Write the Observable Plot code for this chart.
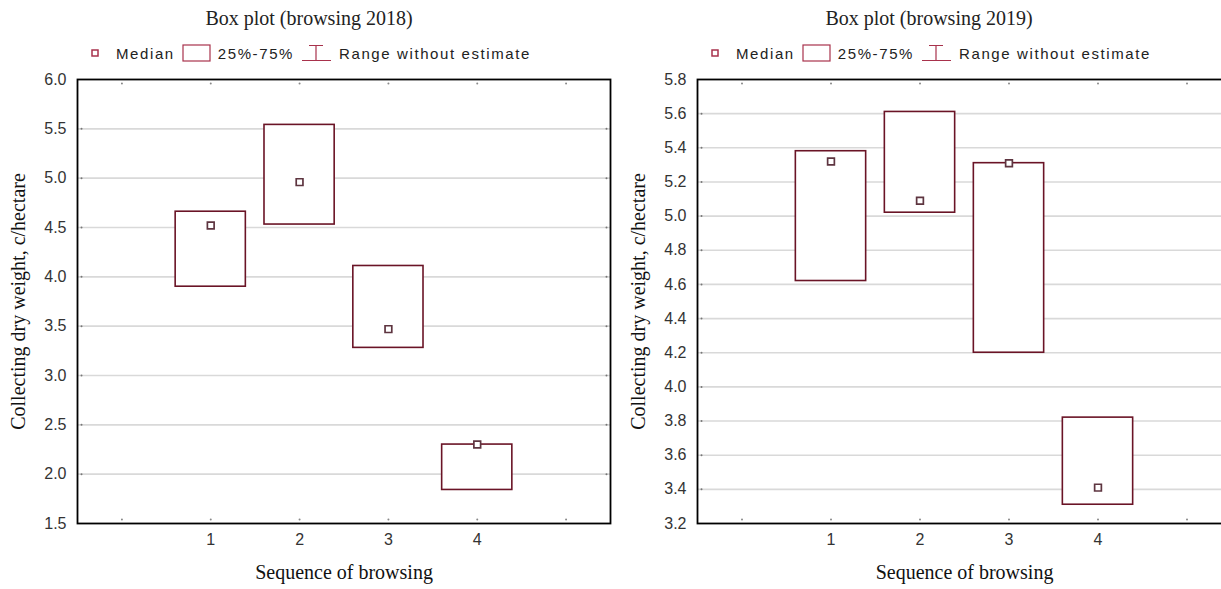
<!DOCTYPE html>
<html><head><meta charset="utf-8">
<script src="https://cdn.jsdelivr.net/npm/d3@7"></script>
<script src="https://cdn.jsdelivr.net/npm/@observablehq/plot@0.6"></script>
<style>
html,body{margin:0;padding:0;background:#fff;overflow:hidden;width:1221px;height:589px;position:relative}
.panel{position:absolute;top:0;width:620px;height:589px}
.title{position:absolute;left:0;width:618px;top:7px;text-align:center;font-family:"Liberation Serif",serif;font-size:20px;line-height:22px;color:#222}
.legend{position:absolute;left:0;width:628px;top:43px;height:20px;display:flex;justify-content:center;align-items:center;font-family:"Liberation Sans",sans-serif;font-size:15px;letter-spacing:1.6px;color:#222;white-space:nowrap}
.legend svg{display:block}
.legend span{margin:0 7px 0 7px}
.chart{position:absolute;top:64px;left:0}
</style>
</head><body>
<div class="panel" id="p2018" style="left:0"></div>
<div class="panel" id="p2019" style="left:620px"></div>
<script>
const categories = [1, 2, 3, 4];
const q1_2018 = [3.90, 4.53, 3.28, 1.84];
const median_2018 = [4.52, 4.96, 3.47, 2.30];
const q3_2018 = [4.66, 5.54, 4.11, 2.30];
const q1_2019 = [4.62, 5.02, 4.20, 3.31];
const median_2019 = [5.32, 5.09, 5.31, 3.41];
const q3_2019 = [5.38, 5.61, 5.31, 3.82];
const xTicks = [0, 1, 2, 3, 4, 5];
const xLabels = ["", "1", "2", "3", "4", ""];
const yTicks2018 = [1.5, 2.0, 2.5, 3.0, 3.5, 4.0, 4.5, 5.0, 5.5, 6.0];
const yTicks2019 = [3.2, 3.4, 3.6, 3.8, 4.0, 4.2, 4.4, 4.6, 4.8, 5.0, 5.2, 5.4, 5.6, 5.8];
const titles = ["Box plot (browsing 2018)", "Box plot (browsing 2019)"];
const legendLabels = ["Median", "25%-75%", "Range without estimate"];
const xLabel = "Sequence of browsing";
const yLabel = "Collecting dry weight, c/hectare";

const boxColor = "#6a1426";
const medColor = "#5e3540";
const legColor = "#a8324c";

function legendHTML() {
  return `<svg width="10" height="10"><rect x="2" y="2" width="6" height="6" fill="#fff" stroke="${legColor}" stroke-width="1.5"/></svg>
  <span style="margin-left:16px">${legendLabels[0]}</span>
  <svg width="29" height="18"><rect x="1" y="1" width="27" height="16" fill="#fff" stroke="${legColor}" stroke-width="1.2"/></svg>
  <span>${legendLabels[1]}</span>
  <svg width="31" height="18"><path d="M8,1.5H22M15,1.5V16.5M1,16.5H30" stroke="${legColor}" stroke-width="1.2" fill="none"/></svg>
  <span>${legendLabels[2]}</span>`;
}

function makePanel(id, title, q1, med, q3, yTicks, marginRight) {
  const el = document.getElementById(id);
  const t = document.createElement("div"); t.className = "title"; t.textContent = title; el.appendChild(t);
  const lg = document.createElement("div"); lg.className = "legend"; lg.innerHTML = legendHTML(); el.appendChild(lg);
  const rows = categories.map((c, i) => ({cat: c, q1: q1[i], med: med[i], q3: q3[i]}));
  const yMin = yTicks[0], yMax = yTicks[yTicks.length - 1];
  const gridVals = yTicks.slice(1, -1);
  const chart = Plot.plot({
    width: 620, height: 525,
    marginTop: 15, marginBottom: 66, marginLeft: 77, marginRight: marginRight,
    style: {background: "#fff", overflow: "visible", maxWidth: "none"},
    x: {domain: [-0.5, 5.5], axis: null},
    y: {domain: [yMin, yMax], axis: null},
    marks: [
      Plot.ruleY(gridVals, {stroke: "#d9d9d9", strokeWidth: 1.6}),
      Plot.axisY({ticks: yTicks, tickSize: 0, tickPadding: 11, tickFormat: d => d.toFixed(1), fontFamily: "Liberation Sans, sans-serif", fontSize: 16, fill: "#333", label: null}),
      Plot.axisX({ticks: xTicks, tickSize: 0, tickPadding: 10, tickFormat: d => xLabels[xTicks.indexOf(d)], fontFamily: "Liberation Sans, sans-serif", fontSize: 16, fill: "#333", label: null}),
      Plot.dot(xTicks, {x: d => d, y: yMax, r: 1, fill: "#888", stroke: null, dy: 4}),
      Plot.dot(xTicks, {x: d => d, y: yMin, r: 1, fill: "#888", stroke: null, dy: -4}),
      Plot.dot(gridVals, {x: -0.5, y: d => d, r: 1, fill: "#777", stroke: null, dx: 4}),
      Plot.dot(gridVals, {x: 5.5, y: d => d, r: 1, fill: "#777", stroke: null, dx: -4}),
      Plot.rect(rows, {x1: d => d.cat - 0.395, x2: d => d.cat + 0.395, y1: "q1", y2: "q3", fill: "#fff", stroke: boxColor, strokeWidth: 1.6}),
      Plot.dot(rows, {x: "cat", y: "med", symbol: "square", r: 3.8, fill: "#fff", stroke: medColor, strokeWidth: 1.7}),
      Plot.frame({stroke: "#000", strokeWidth: 1.8}),
      Plot.text([xLabel], {text: d => d, frameAnchor: "bottom", dy: 55, fontFamily: "Liberation Serif, serif", fontSize: 20, fill: "#111"}),
      Plot.text([yLabel], {text: d => d, frameAnchor: "left", textAnchor: "middle", rotate: -90, dx: -59, fontFamily: "Liberation Serif, serif", fontSize: 20, fill: "#111"})
    ]
  });
  chart.classList.add("chart");
  el.appendChild(chart);
}

makePanel("p2018", titles[0], q1_2018, median_2018, q3_2018, yTicks2018, 10);
makePanel("p2019", titles[1], q1_2019, median_2019, q3_2019, yTicks2019, 9);
</script>
</body></html>
